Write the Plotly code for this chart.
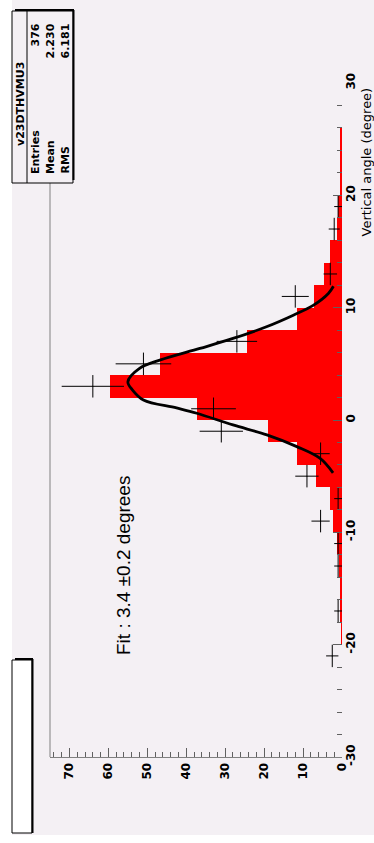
import numpy as np
import plotly.graph_objects as go

# ---- histogram (red, filled): 2-degree bins, lower edges and contents
bin_lo = [-30, -28, -26, -24, -22, -20, -18, -16, -14, -12, -10, -8, -6, -4, -2,
          0, 2, 4, 6, 8, 10, 12, 14, 16, 18, 20, 22, 24, 26, 28]
hist_counts = [0, 0, 0, 0, 0, 0.2, 0.3, 0.3, 0.9, 1.4, 2.4, 3.1, 6.7, 11.5, 19.0,
               37.3, 59.7, 46.8, 24.5, 11.6, 7.2, 4.6, 3.0, 1.4, 1.0,
               0.3, 0.3, 0.3, 0, 0]

# ---- data points with errors (black crosses) at bin centres
pt_angle = [-21, -17, -13, -11, -9, -7, -5, -3, -1, 1, 3, 5, 7, 11, 13, 17, 19]
pt_counts = [2.5, 1, 1, 1, 5.5, 1, 9, 5.5, 31, 33, 64, 51, 27, 12, 3, 2, 1]

# ---- fitted gaussian, sampled points (angle, counts)
fit_angle = [-4.7, -3.4, -2.37, -1.33, -0.44, 0.6, 1.07, 1.78, 2.67, 3.4,
             4.6, 5.33, 6.37, 7.26, 8.3, 9.33, 10.2, 11.26, 11.9]
fit_counts = [2.3, 5.7, 11.6, 19.3, 28.0, 37.3, 42.5, 51.0, 53.8, 55.0,
              52.0, 46.8, 36.5, 28.0, 19.4, 12.5, 7.4, 3.5, 2.2]

count_ticks = [0, 10, 20, 30, 40, 50, 60, 70]
angle_ticks = [-30, -20, -10, 0, 10, 20, 30]

W, H = 374, 843
L, R, T, B = 50, 342, 83, 757  # plot area in pixels
BG = "#f4f0f4"
WIDE = "DejaVu Sans"


def px(x):
    return (x - L) / (R - L)


def py(y):
    return (B - y) / (B - T)


fig = go.Figure()

fig.add_trace(go.Bar(
    y=[lo + 1 for lo in bin_lo], x=hist_counts, orientation="h", width=2,
    marker=dict(color="#ff0000", line=dict(width=0)), showlegend=False,
))

fig.add_trace(go.Scatter(
    y=fit_angle, x=fit_counts, mode="lines", line=dict(color="black", width=2.8, shape="spline"),
    showlegend=False,
))

fig.add_trace(go.Scatter(
    y=pt_angle, x=pt_counts, mode="markers", marker=dict(size=1, color="black"),
    error_x=dict(type="data", array=list(np.sqrt(pt_counts)), color="black", thickness=1, width=0),
    error_y=dict(type="constant", value=1, color="black", thickness=1, width=0),
    showlegend=False,
))

shapes = []
# canvas background
shapes.append(dict(type="rect", xref="paper", yref="paper", x0=px(12), x1=px(374), y0=py(835), y1=py(0),
                   fillcolor=BG, line=dict(width=0), layer="below"))
# frame edge (left)
shapes.append(dict(type="line", xref="paper", yref="paper", x0=0, x1=0, y0=0, y1=1,
                   line=dict(color="#808080", width=1)))
# statistics box
shapes.append(dict(type="rect", xref="paper", yref="paper", x0=px(12), x1=px(73), y0=py(183), y1=py(11),
                   fillcolor=BG, line=dict(color="black", width=1)))
shapes.append(dict(type="line", xref="paper", yref="paper", x0=px(15), x1=px(74), y0=py(10), y1=py(10),
                   line=dict(color="black", width=2)))
shapes.append(dict(type="line", xref="paper", yref="paper", x0=px(73.5), x1=px(73.5), y0=py(10), y1=py(180),
                   line=dict(color="black", width=2)))
shapes.append(dict(type="line", xref="paper", yref="paper", x0=px(27), x1=px(27), y0=py(183), y1=py(11),
                   line=dict(color="black", width=1)))
# title box
shapes.append(dict(type="rect", xref="paper", yref="paper", x0=px(12), x1=px(32), y0=py(833), y1=py(660),
                   fillcolor="white", line=dict(color="black", width=1)))
shapes.append(dict(type="line", xref="paper", yref="paper", x0=px(15), x1=px(33), y0=py(659), y1=py(659),
                   line=dict(color="black", width=2)))
shapes.append(dict(type="line", xref="paper", yref="paper", x0=px(32.5), x1=px(32.5), y0=py(659), y1=py(833),
                   line=dict(color="black", width=2)))

ann = []
font_s = dict(family=WIDE, size=11, color="black")


def rtext(x, y, text, font, anchor="middle"):
    ann.append(dict(xref="paper", yref="paper", x=px(x), y=py(y), text=text, showarrow=False,
                    textangle=-90, font=font, xanchor="center", yanchor=anchor))


rtext(20, 104, "<b>v23DTHVMU3</b>", font_s)
for xc, lab, val in [(35, "Entries", "376"), (50, "Mean", "2.230"), (65, "RMS", "6.181")]:
    rtext(xc, 176, "<b>" + lab + "</b>", font_s, anchor="bottom")
    rtext(xc, 22, "<b>" + val + "</b>", font_s, anchor="top")

rtext(123, 566, "Fit : 3.4 \u00b10.2 degrees", dict(family="Liberation Sans, Arial", size=19, color="black"))
rtext(366, 86, "Vertical angle (degree)", dict(family=WIDE, size=13, color="black"), anchor="top")

tick_font = dict(family=WIDE, size=12, color="black")
fig.update_layout(
    width=W, height=H, margin=dict(l=L, r=W - R, t=T, b=H - B),
    paper_bgcolor="white", plot_bgcolor=BG, bargap=0,
    shapes=shapes, annotations=ann,
    xaxis=dict(range=[75, 0], tickvals=count_ticks, ticktext=["<b>%d</b>" % v for v in count_ticks],
               ticks="inside", ticklen=9, tickcolor="#606060", tickangle=-90,
               minor=dict(dtick=2, ticks="inside", ticklen=5, tickcolor="#606060"),
               showline=True, linecolor="#808080", linewidth=1, showgrid=False, zeroline=False,
               tickfont=tick_font),
    yaxis=dict(range=[-30, 30], side="right", tickvals=angle_ticks,
               ticktext=["<b>%d</b>" % v for v in angle_ticks],
               ticks="inside", ticklen=9, tickcolor="#606060", tickangle=-90,
               minor=dict(dtick=2, ticks="inside", ticklen=5, tickcolor="#606060"),
               showline=False, showgrid=False, zeroline=False,
               tickfont=tick_font),
)

fig.write_html("out.html")
